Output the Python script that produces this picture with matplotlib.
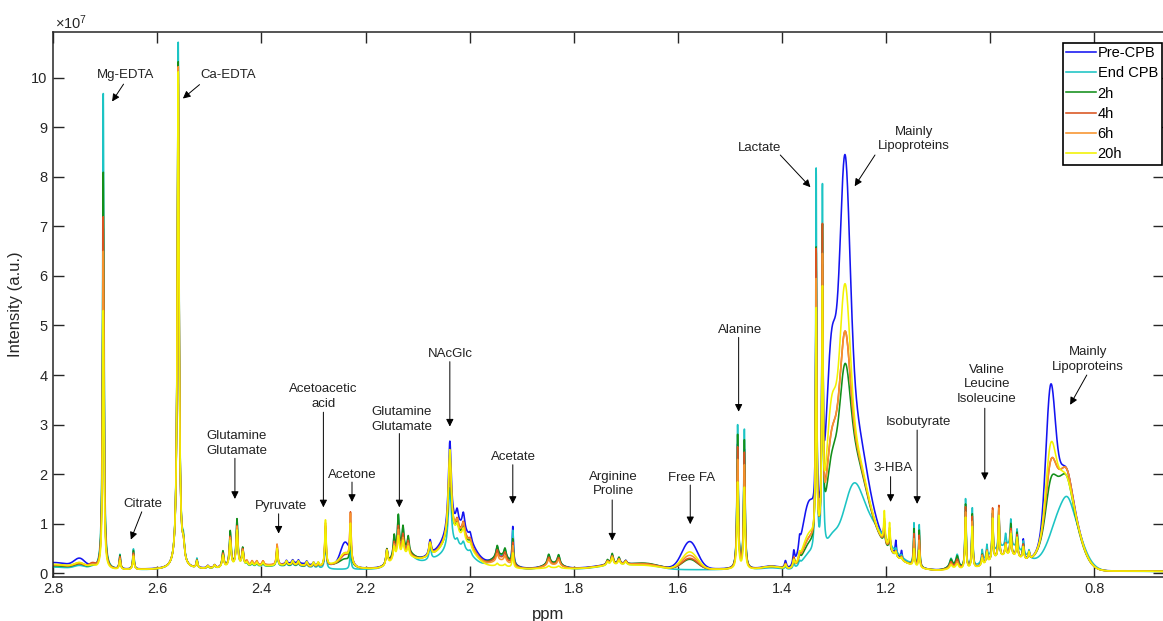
import numpy as np
import matplotlib
matplotlib.use('Agg')
import matplotlib.pyplot as plt
from matplotlib.ticker import FuncFormatter

plt.rcParams['font.family'] = ['Liberation Sans', 'DejaVu Sans']
plt.rcParams['mathtext.default'] = 'regular'

# ---------------- data (intensities in units of 1e7) ----------------
series_names = ['Pre-CPB', 'End CPB', '2h', '4h', '6h', '20h']

# sharp resonances (Lorentzian): centre ppm, FWHM ppm, net height per series
peak_ppm = [2.704, 2.672, 2.646, 2.560, 2.550, 2.524, 2.503, 2.490,
            2.474, 2.460, 2.447, 2.436, 2.428, 2.418, 2.409, 2.397,
            2.370, 2.352, 2.340, 2.329, 2.313, 2.300, 2.291, 2.277,
            2.229, 2.159, 2.145, 2.137, 2.128, 2.118, 2.076, 2.038,
            2.024, 2.012, 1.999, 1.947, 1.932, 1.917, 1.848, 1.829,
            1.735, 1.726, 1.713, 1.700, 1.485, 1.472, 1.393, 1.377,
            1.366, 1.334, 1.322, 1.203, 1.193, 1.181, 1.170, 1.146,
            1.136, 1.075, 1.063, 1.047, 1.034, 1.015, 1.006, 0.995,
            0.983, 0.970, 0.960, 0.948, 0.936, 0.925]
peak_fwhm = [0.003, 0.003, 0.003, 0.004, 0.005, 0.003, 0.004, 0.004,
             0.004, 0.004, 0.004, 0.004, 0.004, 0.004, 0.004, 0.004,
             0.003, 0.004, 0.004, 0.004, 0.004, 0.004, 0.004, 0.003,
             0.003, 0.004, 0.004, 0.004, 0.004, 0.004, 0.005, 0.007,
             0.006, 0.006, 0.006, 0.005, 0.005, 0.003, 0.006, 0.006,
             0.005, 0.005, 0.005, 0.005, 0.003, 0.003, 0.004, 0.004,
             0.004, 0.0025, 0.0025, 0.003, 0.003, 0.003, 0.003, 0.0025,
             0.0025, 0.006, 0.006, 0.0025, 0.0025, 0.003, 0.003, 0.0025,
             0.0025, 0.003, 0.003, 0.003, 0.003, 0.003]
peak_pre = [6.9, 0.22, 0.30, 9.80, 0.30, 0.15, 0.05, 0.06,
            0.25, 0.55, 0.75, 0.28, 0.06, 0.06, 0.06, 0.06,
            0.32, 0.07, 0.07, 0.07, 0.07, 0.07, 0.07, 0.70,
            0.45, 0.30, 0.25, 0.50, 0.30, 0.20, 0.30, 1.85,
            0.28, 0.33, 0.15, 0.20, 0.15, 0.75, 0.15, 0.15,
            0.08, 0.18, 0.12, 0.07, 2.50, 2.40, 0.15, 0.28,
            0.22, 5.00, 4.60, 0.35, 0.30, 0.30, 0.18, 0.50,
            0.50, 0.12, 0.17, 1.15, 0.95, 0.25, 0.25, 0.85,
            0.85, 0.25, 0.50, 0.40, 0.40, 0.15]
peak_end = [9.65, 0.30, 0.42, 10.65, 0.38, 0.20, 0.05, 0.06,
            0.33, 0.70, 0.93, 0.36, 0.05, 0.05, 0.05, 0.05,
            0.35, 0.06, 0.06, 0.06, 0.06, 0.06, 0.06, 0.72,
            0.38, 0.30, 0.40, 0.72, 0.45, 0.30, 0.25, 1.25,
            0.12, 0.14, 0.08, 0.22, 0.18, 0.68, 0.20, 0.20,
            0.08, 0.18, 0.12, 0.07, 2.90, 2.82, 0.05, 0.10,
            0.08, 7.80, 7.45, 0.20, 0.18, 0.08, 0.05, 0.85,
            0.85, 0.17, 0.25, 1.40, 1.20, 0.25, 0.28, 0.80,
            0.80, 0.25, 0.55, 0.40, 0.25, 0.15]
peak_2h = [8.05, 0.28, 0.38, 10.25, 0.33, 0.16, 0.05, 0.06,
           0.33, 0.72, 0.95, 0.36, 0.06, 0.06, 0.06, 0.06,
           0.37, 0.07, 0.07, 0.07, 0.07, 0.07, 0.07, 0.78,
           0.70, 0.30, 0.40, 0.72, 0.45, 0.30, 0.27, 1.50,
           0.20, 0.24, 0.12, 0.22, 0.18, 0.50, 0.20, 0.20,
           0.10, 0.22, 0.14, 0.07, 2.70, 2.60, 0.10, 0.20,
           0.15, 5.95, 6.10, 0.35, 0.30, 0.10, 0.07, 0.75,
           0.75, 0.15, 0.22, 1.30, 1.10, 0.22, 0.25, 0.95,
           0.95, 0.25, 0.65, 0.50, 0.30, 0.15]
peak_4h = [7.15, 0.25, 0.33, 10.15, 0.30, 0.15, 0.05, 0.06,
           0.28, 0.60, 0.80, 0.32, 0.08, 0.08, 0.08, 0.08,
           0.42, 0.07, 0.07, 0.07, 0.07, 0.07, 0.07, 0.82,
           1.00, 0.30, 0.30, 0.55, 0.35, 0.25, 0.27, 1.60,
           0.22, 0.26, 0.12, 0.18, 0.15, 0.45, 0.16, 0.16,
           0.08, 0.17, 0.11, 0.07, 2.45, 2.35, 0.10, 0.20,
           0.15, 5.85, 6.00, 0.45, 0.40, 0.10, 0.07, 0.65,
           0.65, 0.12, 0.17, 1.25, 1.05, 0.20, 0.25, 1.05,
           1.05, 0.25, 0.55, 0.45, 0.30, 0.15]
peak_6h = [6.45, 0.22, 0.30, 10.15, 0.30, 0.15, 0.05, 0.06,
           0.26, 0.57, 0.78, 0.30, 0.08, 0.08, 0.08, 0.08,
           0.42, 0.07, 0.07, 0.07, 0.07, 0.07, 0.07, 0.88,
           0.95, 0.30, 0.27, 0.50, 0.30, 0.22, 0.27, 1.65,
           0.22, 0.26, 0.12, 0.15, 0.12, 0.40, 0.13, 0.13,
           0.08, 0.17, 0.11, 0.07, 2.20, 2.10, 0.10, 0.15,
           0.12, 5.25, 5.40, 0.50, 0.45, 0.10, 0.07, 0.55,
           0.55, 0.10, 0.13, 1.15, 0.95, 0.20, 0.25, 1.00,
           1.00, 0.25, 0.50, 0.40, 0.25, 0.15]
peak_20h = [5.25, 0.18, 0.27, 10.05, 0.30, 0.14, 0.05, 0.06,
            0.24, 0.53, 0.73, 0.28, 0.07, 0.07, 0.07, 0.07,
            0.35, 0.09, 0.09, 0.09, 0.09, 0.09, 0.09, 0.93,
            0.75, 0.30, 0.25, 0.40, 0.27, 0.18, 0.27, 1.85,
            0.20, 0.22, 0.10, 0.05, 0.04, 0.30, 0.04, 0.04,
            0.07, 0.15, 0.10, 0.07, 1.75, 1.65, 0.08, 0.15,
            0.12, 4.60, 4.60, 0.65, 0.55, 0.08, 0.05, 0.35,
            0.35, 0.08, 0.10, 1.05, 0.85, 0.15, 0.22, 0.85,
            0.85, 0.22, 0.45, 0.40, 0.25, 0.15]

# broad components (Gaussian): centre ppm, FWHM ppm, height per series
band_ppm = [2.00, 2.80, 2.749, 2.725, 2.40, 2.33, 2.239, 2.25, 2.13, 2.07,
            2.02, 1.94, 1.84, 1.72, 1.66, 1.577, 1.42, 1.348, 1.305, 1.279,
            1.272, 1.262, 1.262, 1.22, 1.07, 0.965, 0.884, 0.862, 0.855, 0.851,
            0.72]
band_fwhm = [2.0, 0.08, 0.025, 0.015, 0.12, 0.06, 0.02, 0.05, 0.04, 0.10,
             0.06, 0.04, 0.04, 0.08, 0.06, 0.035, 0.04, 0.03, 0.022, 0.022,
             0.07, 0.08, 0.035, 0.10, 0.03, 0.08, 0.02, 0.06, 0.06, 0.018,
             0.2]
band_pre = [0.10, 0.15, 0.18, 0.05, 0.06, 0.08, 0.45, 0.08, 0.25, 0.20,
            0.70, 0.22, 0.08, 0.08, 0.08, 0.55, 0.06, 1.20, 2.80, 4.95,
            3.30, 0.00, 0.00, 0.40, 0.05, 0.30, 2.35, 2.00, 0.00, 0.20,
            0.015]
band_end = [0.08, 0.07, 0.07, 0.04, 0.06, 0.04, 0.00, 0.00, 0.30, 0.15,
            0.35, 0.25, 0.10, 0.08, 0.08, 0.00, 0.04, 0.25, 0.20, 0.00,
            0.00, 0.90, 0.55, 0.50, 0.07, 0.50, 0.00, 0.00, 1.40, 0.12,
            0.015]
band_2h = [0.09, 0.09, 0.09, 0.05, 0.06, 0.04, 0.10, 0.10, 0.30, 0.20,
           0.55, 0.25, 0.10, 0.08, 0.10, 0.20, 0.06, 0.40, 0.90, 1.65,
           2.40, 0.00, 0.00, 0.40, 0.07, 0.30, 0.55, 1.85, 0.00, 0.20,
           0.015]
band_4h = [0.09, 0.11, 0.09, 0.10, 0.08, 0.04, 0.18, 0.10, 0.25, 0.20,
           0.60, 0.20, 0.08, 0.08, 0.09, 0.22, 0.06, 0.50, 1.30, 2.20,
           2.50, 0.00, 0.00, 0.40, 0.05, 0.30, 0.85, 1.95, 0.00, 0.25,
           0.015]
band_6h = [0.09, 0.11, 0.11, 0.07, 0.08, 0.04, 0.22, 0.10, 0.22, 0.20,
           0.58, 0.15, 0.07, 0.08, 0.08, 0.28, 0.06, 0.50, 1.30, 2.20,
           2.50, 0.00, 0.00, 0.40, 0.04, 0.30, 0.85, 1.95, 0.00, 0.25,
           0.015]
band_20h = [0.09, 0.12, 0.11, 0.06, 0.06, 0.05, 0.20, 0.12, 0.20, 0.20,
            0.50, 0.05, 0.02, 0.07, 0.06, 0.35, 0.06, 0.60, 1.90, 3.05,
            2.60, 0.00, 0.00, 0.40, 0.03, 0.30, 1.20, 1.95, 0.00, 0.10,
            0.015]

x_ticks = [2.8, 2.6, 2.4, 2.2, 2.0, 1.8, 1.6, 1.4, 1.2, 1.0, 0.8]
y_ticks = list(range(0, 11))

annotations = ['Mg-EDTA', 'Ca-EDTA', 'Citrate', 'Glutamine\nGlutamate', 'Pyruvate',
               'Acetoacetic\nacid', 'Acetone', 'Glutamine\nGlutamate', 'NAcGlc',
               'Acetate', 'Arginine\nProline', 'Free FA', 'Alanine', 'Lactate',
               'Mainly\nLipoproteins', '3-HBA', 'Isobutyrate',
               'Valine\nLeucine\nIsoleucine', 'Mainly\nLipoproteins']
# text centre, arrow tail, arrow head (ppm, intensity)
ann_text_xy = [(2.662, 10.06), (2.464, 10.06), (2.627, 1.40), (2.447, 2.62),
               (2.363, 1.36), (2.281, 3.57), (2.226, 1.99), (2.131, 3.11),
               (2.037, 4.42), (1.915, 2.35), (1.723, 1.80), (1.574, 1.93),
               (1.481, 4.91), (1.443, 8.59), (1.146, 8.76), (1.187, 2.12),
               (1.138, 3.06), (1.006, 3.81), (0.812, 4.31)]
ann_tail = [(2.665, 9.87), (2.519, 9.86), (2.630, 1.24), (2.451, 2.32),
            (2.367, 1.20), (2.281, 3.25), (2.226, 1.84), (2.135, 2.82),
            (2.038, 4.27), (1.917, 2.19), (1.726, 1.48), (1.576, 1.78),
            (1.483, 4.76), (1.403, 8.44), (1.221, 8.44), (1.191, 1.95),
            (1.140, 2.89), (1.010, 3.33), (0.814, 4.00)]
ann_head = [(2.687, 9.52), (2.551, 9.58), (2.651, 0.68), (2.451, 1.50),
            (2.367, 0.80), (2.281, 1.33), (2.226, 1.44), (2.135, 1.33),
            (2.038, 2.96), (1.917, 1.40), (1.726, 0.66), (1.576, 0.99),
            (1.483, 3.26), (1.345, 7.79), (1.260, 7.81), (1.191, 1.44),
            (1.140, 1.40), (1.010, 1.88), (0.846, 3.40)]

# ---------------- build spectra ----------------
colors = ['#1414f0', '#1cc4c4', '#138f1a', '#d9531e', '#f7922c', '#f2f200']
ppm = np.linspace(2.8, 0.665, 9000)
peak_sets = [peak_pre, peak_end, peak_2h, peak_4h, peak_6h, peak_20h]
band_sets = [band_pre, band_end, band_2h, band_4h, band_6h, band_20h]

def spectrum(ph, bh):
    y = np.zeros_like(ppm)
    for c, w, h in zip(peak_ppm, peak_fwhm, ph):
        hw = w / 2.0
        y += h * hw ** 2 / ((ppm - c) ** 2 + hw ** 2)
    for c, w, h in zip(band_ppm, band_fwhm, bh):
        y += h * np.exp(-4 * np.log(2) * ((ppm - c) / w) ** 2)
    return y

W, H = 1163, 621
fig = plt.figure(figsize=(W / 100, H / 100), dpi=100)
ax = fig.add_axes([53.3 / W, 1 - 576.7 / H, (1163.8 - 53.3) / W, (576.7 - 32.3) / H])

for name, col, ph, bh in zip(series_names, colors, peak_sets, band_sets):
    ax.plot(ppm, spectrum(ph, bh), color=col, lw=1.15, label=name)

ax.set_xlim(2.8, 0.666)
ax.set_ylim(-0.069, 10.916)
ax.set_xticks(x_ticks)
ax.set_yticks(y_ticks)
ax.xaxis.set_major_formatter(FuncFormatter(lambda v, p: '%g' % round(v, 3)))
axc = '#262626'
ax.tick_params(direction='in', top=True, right=True, length=8, width=1.0,
               colors=axc, labelsize=10.5, pad=4)
for s in ax.spines.values():
    s.set_color(axc)
    s.set_linewidth(1.1)
ax.set_xlabel('ppm', fontsize=12, color=axc, labelpad=3)
ax.xaxis.set_label_coords((548 - 53.3) / (1163.8 - 53.3), -0.055)
ax.set_ylabel('Intensity (a.u.)', fontsize=12, color=axc, labelpad=6)
fig.text(55 / W, 1 - 29 / H, '×10$^{7}$', fontsize=10.5, color=axc, ha='left', va='baseline')

for t, txy, tail, head in zip(annotations, ann_text_xy, ann_tail, ann_head):
    ax.text(txy[0], txy[1], t, ha='center', va='center', fontsize=9.5,
            color='#222222', linespacing=1.3)
    ax.annotate('', xy=head, xytext=tail,
                arrowprops=dict(arrowstyle='-|>', color='black', lw=0.7,
                                mutation_scale=11, shrinkA=0, shrinkB=0))

leg = ax.legend(loc='upper left', bbox_to_anchor=(1062.7 / W, 1 - 42.7 / H),
                bbox_transform=fig.transFigure, fontsize=10.5, frameon=True,
                fancybox=False, edgecolor='black', framealpha=1,
                handlelength=2.0, handletextpad=0.15, labelspacing=0.42,
                borderpad=0.25, borderaxespad=0)
leg.get_frame().set_linewidth(1.2)

fig.savefig('out.png', dpi=100)
